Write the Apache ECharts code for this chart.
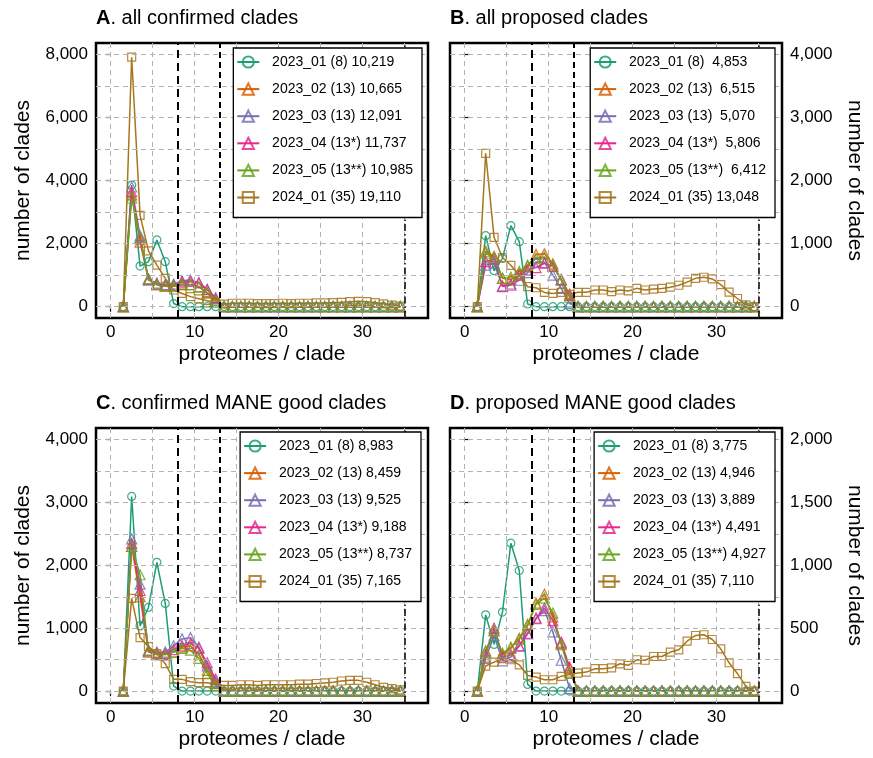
<!DOCTYPE html>
<html>
<head>
<meta charset="utf-8">
<title>clade size distributions</title>
<script src="https://cdn.jsdelivr.net/npm/echarts@6/dist/echarts.min.js"></script>
<style>
  html, body { margin: 0; padding: 0; background: #fff; }
  #chart { width: 873px; height: 758px; }
</style>
</head>
<body>
<div id="chart"></div>
<script>
const FONT = '"Liberation Sans", Arial, Helvetica, sans-serif';

// x positions: proteomes per clade (bin centres)
const cladeSizes = [1.5, 2.5, 3.5, 4.5, 5.5, 6.5, 7.5, 8.5, 9.5, 10.5, 11.5, 12.5,
  13.5, 14.5, 15.5, 16.5, 17.5, 18.5, 19.5, 20.5, 21.5, 22.5, 23.5, 24.5,
  25.5, 26.5, 27.5, 28.5, 29.5, 30.5, 31.5, 32.5, 33.5, 34.5];

const releaseColors = ['#1b9e77', '#d95f02', '#7570b3', '#e7298a', '#66a61e', '#a6761d'];
const releaseSymbols = ['circle', 'triangle', 'triangle', 'triangle', 'triangle', 'rect'];
const symbolSizes = [8, 10, 10, 10, 10, 8];

// tick labels and grid lines
const xTicks = [0, 10, 20, 30];
const xGrid = [0, 5, 10, 15, 20, 25, 30, 35];
const yTicksA = [0, 2000, 4000, 6000, 8000];
const yGridA = [0, 1000, 2000, 3000, 4000, 5000, 6000, 7000, 8000];
const yTicksB = [0, 1000, 2000, 3000, 4000];
const yGridB = [0, 500, 1000, 1500, 2000, 2500, 3000, 3500, 4000];
const yTicksC = [0, 1000, 2000, 3000, 4000];
const yGridC = [0, 500, 1000, 1500, 2000, 2500, 3000, 3500, 4000];
const yTicksD = [0, 500, 1000, 1500, 2000];
const yGridD = [0, 250, 500, 750, 1000, 1250, 1500, 1750, 2000];
// release cut-offs (8 and 13 proteomes) and 35
const cutoffs = [8, 13, 35];

// legend labels
const namesA = ['2023_01 (8) 10,219', '2023_02 (13) 10,665', '2023_03 (13) 12,091',
  '2023_04 (13*) 11,737', '2023_05 (13**) 10,985', '2024_01 (35) 19,110'];
const namesB = ['2023_01 (8)  4,853', '2023_02 (13)  6,515', '2023_03 (13)  5,070',
  '2023_04 (13*)  5,806', '2023_05 (13**)  6,412', '2024_01 (35) 13,048'];
const namesC = ['2023_01 (8) 8,983', '2023_02 (13) 8,459', '2023_03 (13) 9,525',
  '2023_04 (13*) 9,188', '2023_05 (13**) 8,737', '2024_01 (35) 7,165'];
const namesD = ['2023_01 (8) 3,775', '2023_02 (13) 4,946', '2023_03 (13) 3,889',
  '2023_04 (13*) 4,491', '2023_05 (13**) 4,927', '2024_01 (35) 7,110'];

// A. all confirmed clades
const confirmed_2023_01 = [0, 3860, 1290, 1430, 2120, 1430, 100, 0, 0, 0, 0, 0,
  0, 0, 0, 0, 0, 0, 0, 0, 0, 0, 0, 0, 0, 0, 0, 0, 0, 0, 0, 0, 0, 0];
const confirmed_2023_02 = [0, 3550, 2050, 850, 700, 650, 650, 700, 700, 640, 430, 180,
  0, 0, 0, 0, 0, 0, 0, 0, 0, 0, 0, 0, 0, 0, 0, 0, 0, 0, 0, 0, 0, 0];
const confirmed_2023_03 = [0, 3800, 2250, 850, 750, 700, 720, 820, 850, 760, 550, 250,
  0, 0, 0, 0, 0, 0, 0, 0, 0, 0, 0, 0, 0, 0, 0, 0, 0, 0, 0, 0, 0, 0];
const confirmed_2023_04 = [0, 3650, 2150, 880, 720, 680, 680, 780, 800, 760, 540, 280,
  0, 0, 0, 0, 0, 0, 0, 0, 0, 0, 0, 0, 0, 0, 0, 0, 0, 0, 0, 0, 0, 0];
const confirmed_2023_05 = [0, 3450, 2200, 880, 700, 650, 660, 720, 700, 620, 450, 200,
  0, 0, 0, 0, 0, 0, 0, 0, 0, 0, 0, 0, 0, 0, 0, 0, 0, 0, 0, 0, 0, 0];
const confirmed_2024_01 = [0, 7920, 2900, 1770, 1320, 900, 530, 420, 320, 250, 190, 130,
  80, 110, 110, 110, 100, 100, 100, 110, 100, 110, 110, 120,
  120, 130, 140, 160, 170, 160, 130, 90, 50, 20];

// B. all proposed clades
const proposed_2023_01 = [0, 1127, 571, 768, 1286, 1032, 43, 0, 0, 0, 0, 0,
  0, 0, 0, 0, 0, 0, 0, 0, 0, 0, 0, 0, 0, 0, 0, 0, 0, 0, 0, 0, 0, 0];
const proposed_2023_02 = [0, 880, 800, 450, 430, 520, 640, 830, 840, 680, 430, 200,
  0, 0, 0, 0, 0, 0, 0, 0, 0, 0, 0, 0, 0, 0, 0, 0, 0, 0, 0, 0, 0, 0];
const proposed_2023_03 = [0, 660, 690, 330, 340, 420, 540, 710, 700, 500, 290, 50,
  0, 0, 0, 0, 0, 0, 0, 0, 0, 0, 0, 0, 0, 0, 0, 0, 0, 0, 0, 0, 0, 0];
const proposed_2023_04 = [0, 715, 760, 320, 360, 500, 580, 620, 690, 640, 430, 180,
  0, 0, 0, 0, 0, 0, 0, 0, 0, 0, 0, 0, 0, 0, 0, 0, 0, 0, 0, 0, 0, 0];
const proposed_2023_05 = [0, 850, 780, 450, 470, 560, 660, 770, 790, 660, 420, 150,
  0, 0, 0, 0, 0, 0, 0, 0, 0, 0, 0, 0, 0, 0, 0, 0, 0, 0, 0, 0, 0, 0];
const proposed_2024_01 = [0, 2434, 1101, 780, 657, 500, 317, 301, 227, 211, 227, 196,
  228, 228, 265, 265, 238, 265, 250, 291, 265, 280, 290, 310,
  340, 390, 450, 467, 440, 350, 230, 130, 30, 0];

// C. confirmed MANE good clades
const maneConfirmed_2023_01 = [0, 3096, 1037, 1330, 2048, 1394, 80, 0, 0, 0, 0, 0,
  0, 0, 0, 0, 0, 0, 0, 0, 0, 0, 0, 0, 0, 0, 0, 0, 0, 0, 0, 0, 0, 0];
const maneConfirmed_2023_02 = [0, 2300, 1500, 620, 580, 580, 620, 700, 720, 580, 330, 120,
  0, 0, 0, 0, 0, 0, 0, 0, 0, 0, 0, 0, 0, 0, 0, 0, 0, 0, 0, 0, 0, 0];
const maneConfirmed_2023_03 = [0, 2420, 1700, 650, 620, 620, 720, 830, 850, 700, 400, 150,
  0, 0, 0, 0, 0, 0, 0, 0, 0, 0, 0, 0, 0, 0, 0, 0, 0, 0, 0, 0, 0, 0];
const maneConfirmed_2023_04 = [0, 2350, 1600, 640, 600, 600, 660, 720, 760, 680, 450, 190,
  0, 0, 0, 0, 0, 0, 0, 0, 0, 0, 0, 0, 0, 0, 0, 0, 0, 0, 0, 0, 0, 0];
const maneConfirmed_2023_05 = [0, 2300, 1850, 640, 580, 580, 620, 680, 650, 520, 280, 90,
  0, 0, 0, 0, 0, 0, 0, 0, 0, 0, 0, 0, 0, 0, 0, 0, 0, 0, 0, 0, 0, 0];
const maneConfirmed_2024_01 = [0, 1474, 851, 708, 596, 436, 186, 186, 149, 133, 133, 106,
  90, 90, 100, 100, 90, 100, 100, 100, 100, 110, 110, 120,
  130, 140, 160, 170, 170, 140, 100, 60, 40, 20];

// D. proposed MANE good clades
const maneProposed_2023_01 = [0, 606, 371, 628, 1176, 959, 53, 0, 0, 0, 0, 0,
  0, 0, 0, 0, 0, 0, 0, 0, 0, 0, 0, 0, 0, 0, 0, 0, 0, 0, 0, 0, 0, 0];
const maneProposed_2023_02 = [0, 320, 480, 290, 340, 420, 530, 700, 770, 590, 380, 180,
  0, 0, 0, 0, 0, 0, 0, 0, 0, 0, 0, 0, 0, 0, 0, 0, 0, 0, 0, 0, 0, 0];
const maneProposed_2023_03 = [0, 260, 440, 240, 270, 360, 455, 575, 640, 470, 245, 20,
  0, 0, 0, 0, 0, 0, 0, 0, 0, 0, 0, 0, 0, 0, 0, 0, 0, 0, 0, 0, 0, 0];
const maneProposed_2023_04 = [0, 290, 500, 270, 290, 360, 460, 580, 660, 560, 390, 190,
  0, 0, 0, 0, 0, 0, 0, 0, 0, 0, 0, 0, 0, 0, 0, 0, 0, 0, 0, 0, 0, 0];
const maneProposed_2023_05 = [0, 310, 480, 300, 350, 410, 520, 690, 740, 620, 370, 150,
  0, 0, 0, 0, 0, 0, 0, 0, 0, 0, 0, 0, 0, 0, 0, 0, 0, 0, 0, 0, 0, 0];
const maneProposed_2024_01 = [0, 199, 230, 257, 249, 209, 124, 111, 90, 90, 117, 132,
  143, 151, 178, 178, 185, 217, 205, 249, 245, 275, 275, 310,
  328, 397, 442, 448, 410, 336, 225, 138, 37, 0];

const panels = [
  {
    letter: 'A', title: 'all confirmed clades', left: 96, top: 43, side: 'left',
    yMin: -359, yMax: 8371, yTicks: yTicksA, yGrid: yGridA, names: namesA,
    legendRight: 451, legendTop: 48, titleTop: 8,
    values: [confirmed_2023_01, confirmed_2023_02, confirmed_2023_03,
      confirmed_2023_04, confirmed_2023_05, confirmed_2024_01]
  },
  {
    letter: 'B', title: 'all proposed clades', left: 450, top: 43, side: 'right',
    yMin: -179.5, yMax: 4185.5, yTicks: yTicksB, yGrid: yGridB, names: namesB,
    legendRight: 98, legendTop: 48, titleTop: 8,
    values: [proposed_2023_01, proposed_2023_02, proposed_2023_03,
      proposed_2023_04, proposed_2023_05, proposed_2024_01]
  },
  {
    letter: 'C', title: 'confirmed MANE good clades', left: 96, top: 428, side: 'left',
    yMin: -190, yMax: 4185, yTicks: yTicksC, yGrid: yGridC, names: namesC,
    legendRight: 452, legendTop: 432, titleTop: 393,
    values: [maneConfirmed_2023_01, maneConfirmed_2023_02, maneConfirmed_2023_03,
      maneConfirmed_2023_04, maneConfirmed_2023_05, maneConfirmed_2024_01]
  },
  {
    letter: 'D', title: 'proposed MANE good clades', left: 450, top: 428, side: 'right',
    yMin: -95, yMax: 2092.5, yTicks: yTicksD, yGrid: yGridD, names: namesD,
    legendRight: 98, legendTop: 432, titleTop: 393,
    values: [maneProposed_2023_01, maneProposed_2023_02, maneProposed_2023_03,
      maneProposed_2023_04, maneProposed_2023_05, maneProposed_2024_01]
  }
];

const withCommas = v => String(v).replace(/\B(?=(\d{3})+(?!\d))/g, ',');

const textBase = { color: '#000', fontFamily: FONT };
const gridLineStyle = { color: '#b3b3b3', width: 1, type: [5, 4] };
const cutoffStyles = [
  { color: '#000', width: 2, type: [8, 5] },
  { color: '#000', width: 2, type: [6, 4] },
  { color: '#000', width: 1.5, type: [7, 3, 1.5, 3] }
];

const series = [];
panels.forEach((p, i) => {
  // background grid and cut-off lines
  series.push({
    type: 'line',
    xAxisIndex: i,
    yAxisIndex: i,
    data: [],
    silent: true,
    z: 1,
    markLine: {
      silent: true,
      animation: false,
      symbol: ['none', 'none'],
      label: { show: false },
      emphasis: { disabled: true },
      lineStyle: gridLineStyle,
      data: [
        ...xGrid.map(v => ({ xAxis: v })),
        ...p.yGrid.map(v => ({ yAxis: v })),
        ...cutoffs.map((v, k) => ({ xAxis: v, lineStyle: cutoffStyles[k] }))
      ]
    }
  });

  p.values.forEach((vals, s) => {
    series.push({
      type: 'line',
      name: p.names[s],
      xAxisIndex: i,
      yAxisIndex: i,
      data: cladeSizes.map((x, k) => [x, vals[k]]),
      symbol: releaseSymbols[s],
      symbolSize: symbolSizes[s],
      showAllSymbol: true,
      lineStyle: { color: releaseColors[s], width: 1.5 },
      itemStyle: {
        color: 'rgba(255,255,255,0)',
        borderColor: releaseColors[s],
        borderWidth: 1.2,
        opacity: 0.85
      },
      emphasis: { disabled: true },
      z: 3
    });
  });
});

const option = {
  backgroundColor: '#fff',
  animation: false,
  title: panels.map(p => ({
    text: '{b|' + p.letter + '}. ' + p.title,
    left: p.left,
    top: p.titleTop,
    padding: 0,
    textStyle: {
      ...textBase,
      fontSize: 20,
      fontWeight: 'normal',
      rich: { b: { ...textBase, fontSize: 20, fontWeight: 'bold' } }
    }
  })),
  grid: panels.map(p => ({
    left: p.left,
    top: p.top,
    width: 332,
    height: 275,
    show: true,
    borderColor: '#000',
    borderWidth: 2.5,
    backgroundColor: 'transparent'
  })),
  legend: panels.map(p => ({
    data: p.names,
    orient: 'vertical',
    right: p.legendRight,
    top: p.legendTop,
    itemWidth: 22,
    itemHeight: 14,
    itemGap: 13.1,
    padding: [7, 9, 13, 3],
    borderColor: '#000',
    borderWidth: 1.3,
    backgroundColor: '#fff',
    selectedMode: false,
    formatter: '  {name}',
    textStyle: { ...textBase, fontSize: 14 },
    z: 10
  })),
  xAxis: panels.map((p, i) => ({
    gridIndex: i,
    type: 'value',
    min: -1.75,
    max: 37.8,
    axisLine: { show: false },
    axisTick: { show: true, customValues: xTicks, length: 5, lineStyle: { color: '#000', width: 1.2 } },
    axisLabel: { customValues: xTicks, ...textBase, fontSize: 17, margin: 6 },
    splitLine: { show: false },
    name: 'proteomes / clade',
    nameLocation: 'middle',
    nameGap: 26,
    nameTextStyle: { ...textBase, fontSize: 21, verticalAlign: 'top' }
  })),
  yAxis: panels.map((p, i) => ({
    gridIndex: i,
    type: 'value',
    position: p.side,
    min: p.yMin,
    max: p.yMax,
    axisLine: { show: false },
    axisTick: { show: true, customValues: p.yTicks, length: 5, lineStyle: { color: '#000', width: 1.2 } },
    axisLabel: {
      customValues: p.yTicks,
      ...textBase,
      fontSize: 17,
      margin: 8,
      formatter: withCommas
    },
    splitLine: { show: false },
    name: 'number of clades',
    nameLocation: 'middle',
    nameGap: 62,
    nameRotate: p.side === 'left' ? 90 : -90,
    nameTextStyle: { ...textBase, fontSize: 21 }
  })),
  series: series
};

const chart = echarts.init(document.getElementById('chart'), null, { renderer: 'canvas' });
chart.setOption(option);
window.addEventListener('resize', () => chart.resize());
</script>
</body>
</html>
